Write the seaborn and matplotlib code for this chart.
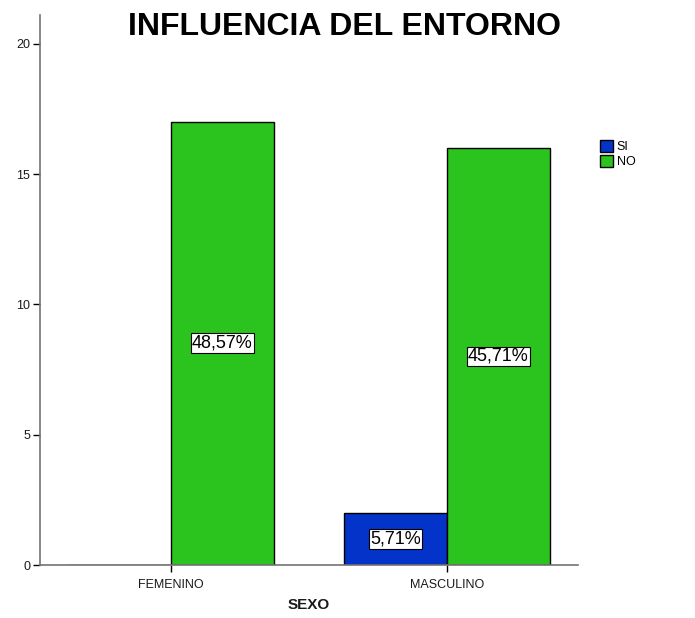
import matplotlib
matplotlib.use("Agg")
import matplotlib.pyplot as plt
import seaborn as sns
import pandas as pd
from matplotlib.patches import Patch

# datos
sexo = ['FEMENINO', 'FEMENINO', 'MASCULINO', 'MASCULINO']
respuesta = ['SI', 'NO', 'SI', 'NO']
conteo = [0, 17, 2, 16]
etiquetas_si = ['', '5,71%']
etiquetas_no = ['48,57%', '45,71%']
colores = {'SI': '#0433c9', 'NO': '#2bc41f'}

df = pd.DataFrame({'SEXO': sexo, 'RESP': respuesta, 'N': conteo})

sns.set_style('white')
plt.rcParams['font.family'] = ['Liberation Sans', 'DejaVu Sans']
plt.rcParams['text.color'] = 'black'

fig = plt.figure(figsize=(6.95, 6.18), dpi=100)
ax = fig.add_axes([40 / 695, 53 / 618, 538 / 695, 550 / 618])

sns.barplot(data=df, x='SEXO', y='N', hue='RESP', hue_order=['SI', 'NO'],
            palette=colores, width=0.746, saturation=1, edgecolor='black',
            linewidth=1.0, legend=False, ax=ax)

# etiquetas de porcentaje en el centro de cada barra
for cont, labs in zip(ax.containers, [etiquetas_si, etiquetas_no]):
    ax.bar_label(cont, labels=labs, label_type='center', fontsize=13, color='black',
                 bbox=dict(boxstyle='square,pad=0.08', fc='white', ec='black', lw=0.8))

ax.set_xlim(-0.4746, 1.4746)
ax.set_ylim(0, 21.1)
ax.set_yticks([0, 5, 10, 15, 20])
ax.set_xlabel('SEXO', fontsize=11, fontweight='bold', labelpad=5, color='#1a1a1a')
ax.set_ylabel('')
ax.tick_params(axis='both', direction='out', length=5, width=1, color='black',
               labelsize=9, labelcolor='#1a1a1a', bottom=True, left=True)
ax.tick_params(axis='x', pad=5)
ax.tick_params(axis='y', pad=2)

for s in ['top', 'right']:
    ax.spines[s].set_visible(False)
for s in ['left', 'bottom']:
    ax.spines[s].set_color('#737373')
    ax.spines[s].set_linewidth(1.2)

fig.suptitle('INFLUENCIA DEL ENTORNO', fontsize=23, fontweight='bold', x=0.495, y=0.98)

handles = [Patch(facecolor=colores[k], edgecolor='black', label=k) for k in ['SI', 'NO']]
fig.legend(handles=handles, loc='upper left', bbox_to_anchor=(600 / 695, 1 - 140 / 618),
           frameon=False, fontsize=9, handlelength=1.0, handleheight=1.1,
           handletextpad=0.35, labelspacing=0.12, borderaxespad=0, borderpad=0)

fig.savefig('out.png', dpi=100)
